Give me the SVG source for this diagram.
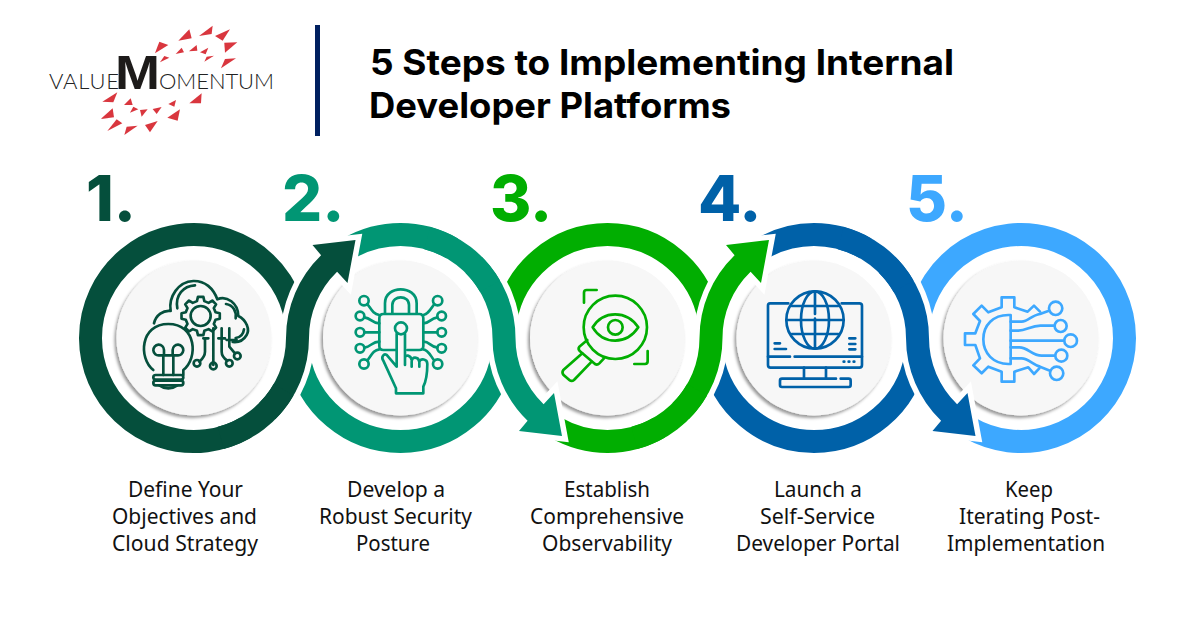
<svg xmlns="http://www.w3.org/2000/svg" width="1200" height="630" viewBox="0 0 1200 630">
  <style>
    .c1{color:#054f3c}.c2{color:#019674}.c3{color:#01ae01}.c4{color:#0061a8}.c5{color:#3da8ff}
    .arc{fill:none;stroke:currentColor;stroke-width:23}
    .sweep{fill:currentColor;stroke:#fff;stroke-width:11;paint-order:stroke;stroke-linejoin:miter;stroke-miterlimit:12}
    .disk{fill:#f7f7f7;filter:url(#lift)}
    .icon{fill:none;stroke:currentColor;stroke-width:8;stroke-linecap:round;stroke-linejoin:round}
    .num{font-family:Inter,"Liberation Sans",sans-serif;font-weight:800;font-size:63px;fill:currentColor}
    .title{font-family:Inter,"Liberation Sans",sans-serif;font-weight:700;font-size:35px;fill:#000}
    .label{font-family:"Noto Sans","Liberation Sans",sans-serif;font-size:21px;fill:#111}
    .thin{font-family:Lato,"Liberation Sans",sans-serif;font-weight:300;font-size:22px;fill:#222}
    .mark{font-family:"Liberation Sans",sans-serif;font-weight:700;font-size:48px;fill:#1d1b1a}
    .shard{fill:#d9363e}
  </style>
  <defs>
    <filter id="lift" x="-15%" y="-15%" width="130%" height="130%">
      <feDropShadow dx="-2" dy="2.5" stdDeviation="1.8" flood-color="#000" flood-opacity="0.4"/>
    </filter>
    <!-- one band: leaves its own ring, crosses into the next ring, ends in an arrowhead -->
    <path id="band" d="M81.32 81.32A115 115 0 0 0 115 0A92 92 0 0 1 143.1-66.2L153.5-55L161.5-98L118.5-93L127.1-82.7A115 115 0 0 0 92 0A92 92 0 0 1 65.05 65.05Z"/>
    <path id="cog" d="M44.6-11.1L57.4-8.1L57.4 8.1L44.6 11.1L39.4 23.7L46.3 34.9L34.9 46.3L23.7 39.4L11.1 44.6L8.1 57.4L-8.1 57.4L-11.1 44.6L-23.7 39.4L-34.9 46.3L-46.3 34.9L-39.4 23.7L-44.6 11.1L-57.4 8.1L-57.4-8.1L-44.6-11.1L-39.4-23.7L-46.3-34.9L-34.9-46.3L-23.7-39.4L-11.1-44.6L-8.1-57.4L8.1-57.4L11.1-44.6L23.7-39.4L34.9-46.3L46.3-34.9L39.4-23.7Z"/>
  </defs>

  <rect width="1200" height="630" fill="#fff"/>

  <g id="logo">
    <g class="shard" transform="translate(30 10) scale(0.3333)">
      <polygon points="375,130 388,95 415,105"/><polygon points="445,92 478,58 485,85"/>
      <polygon points="507,78 548,47 545,72"/><polygon points="555,78 600,58 578,92"/>
      <polygon points="583,98 622,97 585,128"/><polygon points="573,175 585,147 618,145"/>
      <polygon points="390,157 403,138 418,143"/><polygon points="437,132 455,113 462,127"/>
      <polygon points="477,124 500,105 502,122"/><polygon points="510,127 535,113 527,133"/>
      <polygon points="523,155 530,140 552,137"/><polygon points="217,275 262,247 250,277"/>
      <polygon points="212,327 248,295 252,322"/><polygon points="232,363 260,328 277,340"/>
      <polygon points="283,375 290,350 323,347"/><polygon points="345,345 383,333 360,367"/>
      <polygon points="412,323 450,298 443,332"/><polygon points="478,280 515,250 513,280"/>
      <polygon points="282,285 302,265 308,285"/><polygon points="300,308 310,290 325,298"/>
      <polygon points="330,300 353,298 335,320"/><polygon points="368,297 395,291 380,312"/>
      <polygon points="415,282 438,270 433,290"/>
    </g>
    <text class="thin" x="49" y="89" textLength="70" lengthAdjust="spacing">VALUE</text>
    <text class="mark" x="115" y="89" textLength="45" lengthAdjust="spacingAndGlyphs">M</text>
    <text class="thin" x="159" y="89" textLength="115" lengthAdjust="spacing">OMENTUM</text>
  </g>

  <rect id="divider" x="315" y="25" width="5" height="111" fill="#002060"/>

  <g id="heading">
    <text class="title" x="370" y="74.5" textLength="584" lengthAdjust="spacingAndGlyphs">5 Steps to Implementing Internal</text>
    <text class="title" x="369" y="118" textLength="362" lengthAdjust="spacingAndGlyphs">Developer Platforms</text>
  </g>

  <g id="step-1" class="c1">
    <circle class="disk" cx="194" cy="338" r="77.5"/>
    <text class="num" x="86" y="221">1.</text>
    <g class="icon" transform="translate(70 210) scale(0.3333)">
      <path d="M250 480C205 445 210 342 295 342C380 342 385 445 340 480V495"/>
      <rect x="250" y="495" width="90" height="14" rx="7"/>
      <rect x="250" y="512" width="90" height="14" rx="7"/>
      <path d="M268 526Q295 545 322 526"/>
      <path d="M280 495V436H268A16 16 0 1 1 282 420V436H308V420A16 16 0 1 1 322 436H310V495"/>
      <path d="M252 340C258 315 280 300 302 303C295 260 325 215 370 213C405 212 430 235 442 268C470 255 505 280 505 318C530 330 540 360 530 375C520 392 505 398 488 396"/>
      <path d="M322 295C315 255 340 228 375 226M468 282C490 285 500 305 497 325M522 358C520 375 510 382 497 384"/>
      <use href="#cog" transform="translate(392 318)"/>
      <circle cx="392" cy="318" r="30"/>
      <path d="M405 385V425Q405 440 388 455M430 355V465M455 355V425Q455 440 472 452M478 355V410L495 430M400 385H415M445 385H465M470 390H500"/>
      <circle cx="381" cy="460" r="10"/><circle cx="430" cy="468" r="10"/><circle cx="478" cy="460" r="10"/><circle cx="502" cy="438" r="10"/>
    </g>
    <text class="label" lengthAdjust="spacingAndGlyphs" x="128" y="497" textLength="115">Define Your</text>
    <text class="label" lengthAdjust="spacingAndGlyphs" x="112" y="524" textLength="145">Objectives and</text>
    <text class="label" lengthAdjust="spacingAndGlyphs" x="112" y="551" textLength="146">Cloud Strategy</text>
  </g>

  <g id="step-2" class="c2">
    <circle class="disk" cx="400.5" cy="338" r="77.5"/>
    <text class="num" x="282" y="221">2.</text>
    <g class="icon" transform="translate(290 210) scale(0.3333)">
      <path d="M285 310V280C285 250 310 238 332 238C355 238 380 250 380 280V310"/>
      <path d="M307 310V285C307 270 320 262 332 262C345 262 357 270 357 285V310"/>
      <path d="M318 420H280Q268 420 268 408V325Q268 312 280 312H388Q400 312 400 325V408Q400 420 388 420H352"/>
      <circle cx="333" cy="355" r="18"/>
      <path d="M320 372V470L290 435C282 430 272 440 280 452L318 535V550H400V530C410 510 412 480 412 462C412 445 392 445 388 455V470M388 455C385 440 365 438 365 455V470M365 450C362 435 345 432 345 445M345 372V465"/>
      <circle cx="222" cy="272" r="14"/><circle cx="210" cy="318" r="13"/><circle cx="210" cy="367" r="13"/><circle cx="210" cy="415" r="13"/><circle cx="222" cy="462" r="14"/>
      <circle cx="443" cy="272" r="14"/><circle cx="455" cy="318" r="13"/><circle cx="455" cy="367" r="13"/><circle cx="455" cy="415" r="13"/><circle cx="443" cy="462" r="14"/>
      <path d="M232 282C245 300 250 312 268 315M223 322C245 325 245 340 268 340M223 367H268M223 413C245 410 245 395 268 395M232 452C245 435 250 420 268 418"/>
      <path d="M433 282C420 300 415 312 400 315M442 322C420 325 420 340 400 340M442 367H400M442 413C420 410 420 395 400 395M433 452C420 435 415 420 400 418"/>
    </g>
    <text class="label" lengthAdjust="spacingAndGlyphs" x="347" y="497" textLength="98">Develop a</text>
    <text class="label" lengthAdjust="spacingAndGlyphs" x="319" y="524" textLength="153">Robust Security</text>
    <text class="label" lengthAdjust="spacingAndGlyphs" x="356" y="551" textLength="74">Posture</text>
  </g>

  <g id="step-3" class="c3">
    <circle class="disk" cx="607.5" cy="338" r="77.5"/>
    <text class="num" x="490" y="221">3.</text>
    <g class="icon" transform="translate(500 210) scale(0.3333)">
      <circle cx="346" cy="352" r="95"/>
      <path d="M278 352C310 300 380 300 415 352C380 405 310 405 278 352Z"/>
      <circle cx="346" cy="352" r="22"/>
      <path d="M252 278V248Q252 240 260 240H290M403 462H435Q443 462 443 454V423"/>
      <path d="M262 390L238 410Q233 417 240 424L285 462Q292 466 298 460L312 445"/>
      <path d="M247 430L190 480Q185 487 190 494L208 510Q215 516 222 510L275 455"/>
    </g>
    <text class="label" lengthAdjust="spacingAndGlyphs" x="564" y="497" textLength="86">Establish</text>
    <text class="label" lengthAdjust="spacingAndGlyphs" x="530" y="524" textLength="154">Comprehensive</text>
    <text class="label" lengthAdjust="spacingAndGlyphs" x="542" y="551" textLength="130">Observability</text>
  </g>

  <g id="step-4" class="c4">
    <circle class="disk" cx="814" cy="338" r="77.5"/>
    <text class="num" x="698" y="221">4.</text>
    <g class="icon" transform="translate(700 210) scale(0.3333)">
      <circle cx="345" cy="330" r="86"/>
      <ellipse cx="345" cy="330" rx="42" ry="86"/>
      <path d="M345 244V312M345 326V416M259 330H431M275 288H415M275 372H415"/>
      <path d="M265 280H210Q204 280 204 287V465Q204 473 212 473H478Q486 473 486 465V287Q486 280 478 280H425"/>
      <path d="M204 440H270M284 440H486"/>
      <path d="M224 400H240M224 417H258M448 385H466M448 402H466M448 418H466"/>
      <path d="M431 455H433M446 455H448M461 455H463"/>
      <path d="M312 473V505M378 473V505"/>
      <path d="M408 506H246Q240 506 240 512V525Q240 531 246 531H446Q452 531 452 525V512Q452 506 446 506H422"/>
    </g>
    <text class="label" lengthAdjust="spacingAndGlyphs" x="774" y="497" textLength="88">Launch a</text>
    <text class="label" lengthAdjust="spacingAndGlyphs" x="760" y="524" textLength="115">Self-Service</text>
    <text class="label" lengthAdjust="spacingAndGlyphs" x="736" y="551" textLength="164">Developer Portal</text>
  </g>

  <g id="step-5" class="c5">
    <circle class="disk" cx="1021" cy="338" r="77.5"/>
    <text class="num" x="906" y="221">5.</text>
    <g class="icon" transform="translate(900 210) scale(0.3333)">
      <path d="M420 305L402 287L383 305L343 292V262H305V292L265 307L245 287L220 312L240 333L226 370H195V405H226L240 445L220 466L245 490L265 470L305 485V515H343V485L385 472L402 492L418 475"/>
      <path d="M332 315V462H325C280 462 250 430 250 388C250 345 280 315 325 315Z"/>
      <path d="M332 335H365C385 335 395 315 420 312L447 302M332 362H355C380 362 395 345 425 347H462M332 392H490M332 412H358C385 412 395 437 425 437H464M332 445H365C385 445 400 465 420 470L450 482"/>
      <circle cx="467" cy="295" r="20"/><circle cx="482" cy="348" r="18"/><circle cx="512" cy="392" r="19"/><circle cx="484" cy="437" r="18"/><circle cx="470" cy="490" r="20"/>
    </g>
    <text class="label" lengthAdjust="spacingAndGlyphs" x="1005" y="497" textLength="48">Keep</text>
    <text class="label" lengthAdjust="spacingAndGlyphs" x="959" y="524" textLength="141">Iterating Post-</text>
    <text class="label" lengthAdjust="spacingAndGlyphs" x="947" y="551" textLength="158">Implementation</text>
  </g>

  <!-- rings are stacked last to first so each arrowhead lies over the ring it points into -->
  <g id="connectors">
    <g id="ring-5" class="c5" transform="translate(1021 338)">
      <path class="arc" d="M-101.93-17.97A103.5 103.5 0 1 1-51.75 89.63"/>
    </g>
    <g id="ring-4" class="c4" transform="translate(814 338)">
      <path class="arc" d="M-51.75-89.63A103.5 103.5 0 0 1 51.75-89.63"/>
      <path class="arc" d="M-101.93 17.97A103.5 103.5 0 0 0 101.93 17.97"/>
      <use href="#band" class="sweep" transform="scale(1 -1)"/>
      <path class="arc" d="M26.79-99.97A103.5 103.5 0 0 1 89.63-51.75"/>
    </g>
    <g id="ring-3" class="c3" transform="translate(607.5 338)">
      <path class="arc" d="M-101.93-17.97A103.5 103.5 0 0 1 101.93-17.97"/>
      <path class="arc" d="M-51.75 89.63A103.5 103.5 0 0 0 51.75 89.63"/>
      <use href="#band" class="sweep"/>
      <path class="arc" d="M26.79 99.97A103.5 103.5 0 0 0 89.63 51.75"/>
    </g>
    <g id="ring-2" class="c2" transform="translate(400.5 338)">
      <path class="arc" d="M-51.75-89.63A103.5 103.5 0 0 1 51.75-89.63"/>
      <path class="arc" d="M-101.93 17.97A103.5 103.5 0 0 0 101.93 17.97"/>
      <use href="#band" class="sweep" transform="scale(1 -1)"/>
      <path class="arc" d="M26.79-99.97A103.5 103.5 0 0 1 89.63-51.75"/>
    </g>
    <g id="ring-1" class="c1" transform="translate(194 338)">
      <path class="arc" d="M101.93-17.97A103.5 103.5 0 1 0 51.75 89.63"/>
      <use href="#band" class="sweep"/>
      <path class="arc" d="M26.79 99.97A103.5 103.5 0 0 0 89.63 51.75"/>
    </g>
  </g>
</svg>
